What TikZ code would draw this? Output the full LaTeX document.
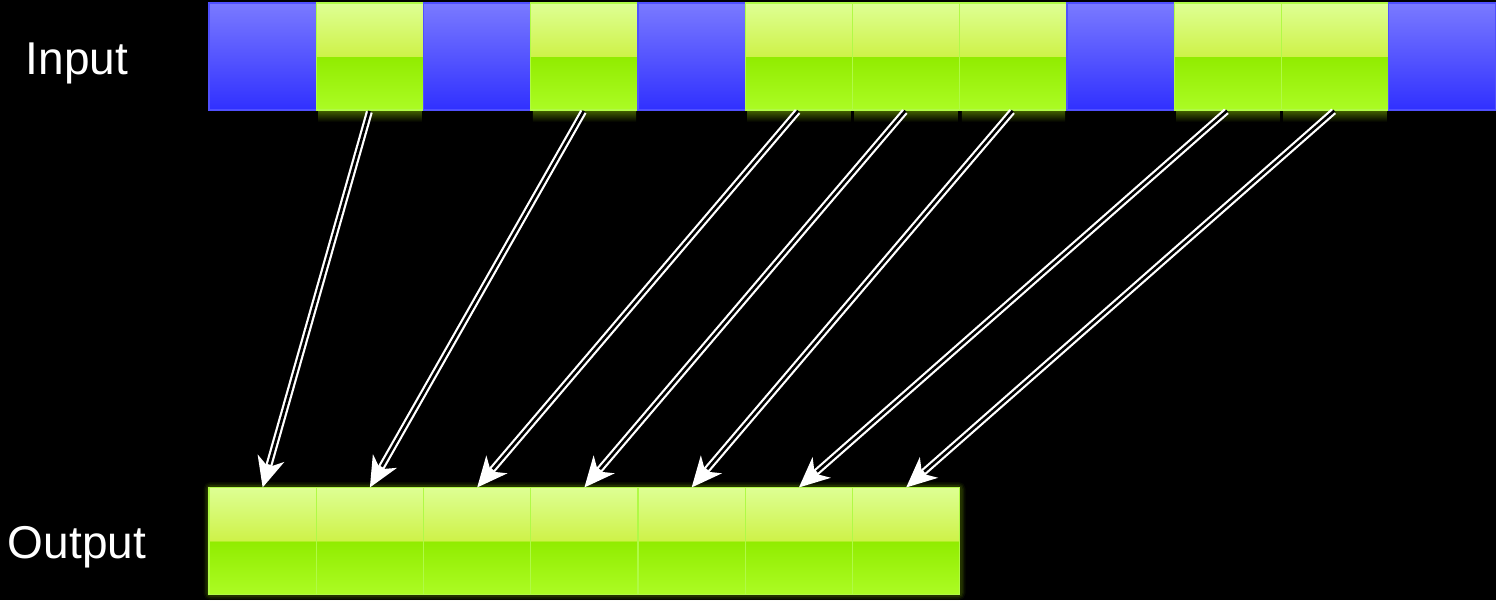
\documentclass[tikz,border=0pt]{standalone}
\usepackage{fontspec}
\setmainfont{Liberation Sans}
\usetikzlibrary{arrows.meta}
\definecolor{gTop}{RGB}{222,255,148}
\definecolor{gMidHi}{RGB}{206,242,72}
\definecolor{gMidLo}{RGB}{145,236,0}
\definecolor{gBot}{RGB}{172,252,36}
\definecolor{gEdge}{RGB}{176,250,70}
\definecolor{bTop}{RGB}{122,122,255}
\definecolor{bBot}{RGB}{48,48,255}
\definecolor{bEdge}{RGB}{80,80,255}
\definecolor{glow}{RGB}{70,100,0}
\pgfdeclareverticalshading{greencell}{100bp}{color(0bp)=(gBot); color(25bp)=(gBot); color(49.8bp)=(gMidLo); color(50bp)=(gMidHi); color(75bp)=(gTop); color(100bp)=(gTop)}
\pgfdeclareverticalshading{bluecell}{100bp}{color(0bp)=(bBot); color(25bp)=(bBot); color(75bp)=(bTop); color(100bp)=(bTop)}
\tikzset{
  cellbase/.style={anchor=north west, minimum width=107.25pt, minimum height=107pt, inner sep=0pt, outer sep=0pt, line width=1.2pt},
  gcell/.style={cellbase, shading=greencell, draw=gEdge},
  bcell/.style={cellbase, shading=bluecell, draw=bEdge},
  lbl/.style={text=white, font=\fontsize{46}{55}\selectfont, anchor=base},
  arrout/.style={draw=white, line width=7pt, -{Stealth[length=30pt,width=27pt,inset=9pt]}, shorten <=2pt},
  arrin/.style={draw=black, line width=2.6pt, shorten <=1pt, shorten >=24pt}
}
\begin{document}
\begin{tikzpicture}[x=1pt,y=-1pt]
\fill[black] (0,0) rectangle (1496,600);
\useasboundingbox (0,0) rectangle (1496,600);
% glow
\foreach \i in {1,3,5,6,7,9,10}
  \shade[top color=glow, bottom color=black] ({209+\i*107.25+2},110) rectangle ({209+(\i+1)*107.25-2},122);
\foreach \w/\o in {9/0.12,6/0.2,3/0.3}
  \draw[glow, line width=\w pt, opacity=\o, rounded corners=3pt] (208,486.5) rectangle (961,595.5);
% input row
\foreach \t [count=\i] in {b,g,b,g,b,g,g,g,b,g,g,b}
  \node[\t cell] (in\i) at ({209+(\i-1)*107.25},3) {};
% output row
\foreach \i in {1,...,7}
  \node[gcell] (out\i) at ({209+(\i-1)*107.25},487.5) {};
% labels
\node[lbl] (inlab) at (77,74) {Input};
\node[lbl] (outlab) at (77,558) {Output};
% arrows
\foreach \a/\b in {2/1,4/2,6/3,7/4,8/5,10/6,11/7}{
  \draw[arrout] (in\a.south) -- (out\b.north);
  \draw[arrin] (in\a.south) -- (out\b.north);
}
\end{tikzpicture}
\end{document}
